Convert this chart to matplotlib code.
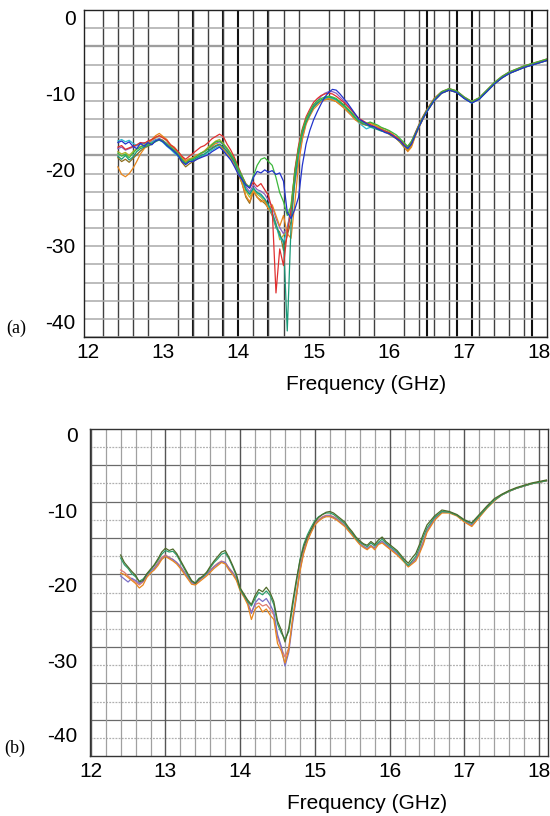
import numpy as np
import matplotlib.pyplot as plt
from matplotlib.ticker import MultipleLocator, FixedLocator

plt.rcParams['font.family'] = ['Liberation Sans', 'DejaVu Sans']
plt.rcParams['axes.unicode_minus'] = False

# frequency grid (GHz): 0.05 steps up to 16.5, then 0.1 steps
freq = np.round(np.concatenate([np.arange(12.40, 16.501, 0.05),
                                np.arange(16.60, 18.101, 0.10)]), 2)

# ---- (a) measured S11 traces (dB) ----
a_blue = [-16.4,-16.2,-16.6,-16.3,-16.9,-17.2,-16.5,-16.9,-16.4,-16.7,
          -16.2,-16.0,-16.3,-16.8,-17.2,-17.6,-18.1,-18.9,-19.3,-18.9,
          -18.9,-18.6,-18.4,-18.2,-18.0,-17.6,-17.3,-17.0,-17.5,-18.1,
          -18.7,-19.6,-20.6,-21.3,-22.0,-22.4,-21.0,-20.2,-20.4,-20.0,
          -20.3,-20.1,-20.6,-20.4,-21.5,-25.6,-26.4,-25.2,-23.6,-19.4,
          -16.6,-14.8,-13.4,-12.3,-11.3,-10.4,-9.8,-9.4,-9.5,-10.0,
          -10.6,-11.2,-11.9,-12.6,-13.3,-13.6,-13.9,-14.2,-14.3,-14.6,
          -14.8,-15.1,-15.2,-15.5,-15.9,-16.2,-16.8,-17.2,-16.6,-15.4,
          -14.3,-13.3,-12.4,-10.9,-9.9,-9.5,-9.8,-10.6,-11.2,-10.7,
          -9.7,-8.7,-7.9,-7.3,-6.9,-6.5,-6.2,-5.9,-5.6]
a_orange = [-19.6,-20.6,-20.9,-20.5,-19.8,-18.9,-17.9,-17.2,-16.6,-16.0,
            -15.5,-15.2,-15.6,-16.0,-16.7,-17.0,-17.6,-18.2,-18.9,-18.6,
            -18.4,-18.0,-17.9,-17.5,-17.1,-16.9,-16.5,-16.7,-17.3,-17.8,
            -18.5,-19.4,-20.4,-21.8,-23.4,-24.2,-22.8,-23.6,-24.2,-24.0,
            -25.2,-24.6,-26.0,-27.4,-26.0,-28.4,-29.0,-24.4,-19.2,-16.0,
            -14.0,-12.9,-12.0,-11.5,-11.0,-10.8,-10.6,-10.8,-11.0,-11.4,
            -11.8,-12.3,-12.8,-13.4,-13.7,-14.0,-14.1,-13.8,-14.0,-14.3,
            -14.5,-14.6,-14.9,-15.3,-15.7,-16.2,-16.8,-17.6,-17.0,-15.6,
            -14.4,-13.4,-12.4,-10.9,-9.9,-9.5,-9.8,-10.5,-11.1,-10.6,
            -9.7,-8.7,-7.9,-7.2,-6.8,-6.4,-6.1,-5.8,-5.5]
a_green = [-17.8,-18.2,-17.9,-18.4,-17.8,-17.3,-17.0,-16.8,-16.6,-16.5,
           -16.3,-16.0,-16.2,-16.6,-17.0,-17.4,-17.9,-18.6,-19.1,-18.7,
           -18.5,-18.2,-17.8,-17.6,-17.2,-16.7,-16.3,-16.2,-16.6,-17.2,
           -17.9,-18.7,-19.8,-20.8,-21.9,-22.2,-20.8,-19.4,-18.6,-18.4,
           -18.9,-19.4,-21.0,-23.0,-24.2,-26.0,-24.8,-20.4,-17.2,-14.8,
           -13.3,-12.3,-11.4,-10.9,-10.6,-10.4,-10.3,-10.4,-10.6,-11.0,
           -11.4,-11.9,-12.4,-13.0,-13.5,-13.7,-13.9,-13.7,-13.9,-14.1,
           -14.4,-14.6,-14.8,-15.1,-15.4,-15.9,-16.4,-16.9,-16.2,-15.2,
           -14.1,-13.1,-12.2,-10.7,-9.7,-9.3,-9.6,-10.4,-11.0,-10.5,
           -9.5,-8.5,-7.7,-7.1,-6.7,-6.3,-6.0,-5.7,-5.4]
a_red = [-17.0,-16.8,-17.3,-17.1,-16.9,-16.7,-16.4,-16.5,-16.2,-16.0,
         -15.7,-15.5,-15.8,-16.1,-16.7,-17.1,-17.6,-18.2,-18.6,-18.2,
         -17.8,-17.4,-17.0,-16.8,-16.4,-15.9,-15.6,-15.3,-15.6,-16.6,
         -17.4,-18.4,-19.6,-20.8,-21.8,-22.4,-21.6,-22.2,-21.8,-22.6,
         -23.4,-25.2,-36.2,-30.4,-32.6,-28.2,-25.4,-20.0,-16.8,-14.6,
         -13.0,-12.0,-11.1,-10.6,-10.2,-10.0,-9.9,-10.0,-10.3,-10.7,
         -11.1,-11.6,-12.1,-12.7,-13.2,-13.5,-13.8,-14.0,-14.3,-14.5,
         -14.7,-14.9,-15.1,-15.4,-15.7,-16.1,-16.6,-16.9,-16.3,-15.1,
         -14.0,-13.0,-12.1,-10.6,-9.7,-9.3,-9.6,-10.4,-11.0,-10.5,
         -9.5,-8.5,-7.7,-7.1,-6.7,-6.3,-6.0,-5.7,-5.4]
a_teal = [-18.2,-18.6,-18.1,-18.7,-18.3,-17.6,-17.2,-17.0,-16.8,-16.6,
          -16.2,-16.1,-16.3,-16.7,-17.1,-17.5,-18.0,-18.7,-19.2,-18.9,
          -18.7,-18.4,-18.1,-17.9,-17.5,-17.1,-16.8,-16.6,-17.0,-17.6,
          -18.2,-19.0,-20.2,-21.2,-22.6,-23.2,-22.4,-23.0,-23.2,-23.8,
          -24.6,-25.6,-27.2,-28.6,-29.4,-41.2,-27.4,-21.4,-17.6,-15.2,
          -13.7,-12.7,-11.7,-11.2,-10.8,-10.5,-10.4,-10.5,-10.7,-11.1,
          -11.5,-12.0,-12.5,-13.1,-13.6,-13.9,-14.1,-14.3,-14.5,-14.7,
          -14.9,-15.0,-15.2,-15.5,-15.8,-16.2,-16.7,-17.1,-16.5,-15.4,
          -14.3,-13.3,-12.4,-10.9,-9.9,-9.5,-9.8,-10.6,-11.2,-10.7,
          -9.7,-8.7,-7.9,-7.3,-6.9,-6.5,-6.2,-5.9,-5.6]
a_cyan = [-16.2,-16.0,-16.3,-16.1,-16.5,-16.8,-16.4,-16.6,-16.3,-16.4,
          -16.1,-16.0,-16.4,-16.9,-17.3,-17.8,-18.2,-18.8,-19.1,-18.7,
          -18.5,-18.4,-18.2,-18.0,-17.7,-17.4,-17.1,-16.9,-17.3,-17.9,
          -18.6,-19.4,-20.4,-21.4,-22.5,-23.2,-22.4,-23.0,-23.4,-23.9,
          -24.8,-25.8,-27.4,-28.8,-29.6,-27.8,-25.6,-21.2,-17.8,-15.3,
          -13.8,-12.8,-11.8,-11.3,-10.9,-10.6,-10.5,-10.6,-10.8,-11.2,
          -11.6,-12.1,-12.6,-13.2,-13.8,-14.2,-14.6,-14.4,-14.5,-14.6,
          -14.7,-14.9,-15.1,-15.4,-15.7,-16.1,-16.6,-17.0,-16.4,-15.3,
          -14.2,-13.2,-12.3,-10.8,-9.8,-9.4,-9.7,-10.5,-11.1,-10.6,
          -9.6,-8.6,-7.8,-7.2,-6.8,-6.4,-6.1,-5.8,-5.5]
a_brown = [-18.4,-18.9,-18.6,-19.0,-18.5,-18.0,-17.5,-17.1,-16.9,-16.6,
           -16.2,-15.9,-16.1,-16.6,-17.1,-17.6,-18.2,-19.0,-19.6,-19.2,
           -18.9,-18.6,-18.3,-18.0,-17.6,-17.2,-16.9,-16.7,-17.0,-17.5,
           -18.3,-19.2,-20.6,-21.8,-23.6,-24.4,-22.8,-23.6,-24.0,-24.4,
           -25.0,-26.0,-27.6,-28.2,-30.6,-28.6,-26.8,-20.6,-17.2,-14.9,
           -13.4,-12.5,-11.6,-11.2,-10.9,-10.7,-10.7,-10.8,-11.0,-11.4,
           -11.8,-12.3,-12.8,-13.3,-13.7,-13.9,-14.1,-14.2,-14.4,-14.6,
           -14.8,-15.0,-15.3,-15.6,-15.9,-16.4,-17.0,-17.5,-16.8,-15.5,
           -14.3,-13.3,-12.4,-10.9,-9.9,-9.5,-9.8,-10.5,-11.1,-10.6,
           -9.7,-8.7,-7.9,-7.3,-6.9,-6.5,-6.2,-5.9,-5.6]
a_olive = [-17.6,-17.9,-17.7,-18.1,-17.6,-17.2,-16.9,-16.7,-16.3,-16.1,
           -15.8,-15.5,-15.7,-16.2,-16.8,-17.2,-17.7,-18.4,-18.8,-18.5,
           -18.4,-18.1,-17.8,-17.5,-17.0,-16.6,-16.2,-16.0,-16.5,-17.1,
           -17.8,-18.6,-19.9,-21.2,-22.8,-23.6,-22.6,-23.2,-23.6,-24.2,
           -25.0,-25.8,-27.0,-29.2,-28.6,-28.0,-24.6,-20.2,-17.0,-14.8,
           -13.3,-12.4,-11.6,-11.1,-10.8,-10.6,-10.6,-10.7,-10.9,-11.3,
           -11.7,-12.2,-12.7,-13.2,-13.6,-13.8,-13.9,-13.8,-14.1,-14.3,
           -14.6,-14.8,-15.1,-15.4,-15.8,-16.3,-16.9,-17.3,-16.6,-15.4,
           -14.2,-13.2,-12.3,-10.8,-9.8,-9.4,-9.7,-10.5,-11.1,-10.6,
           -9.6,-8.6,-7.8,-7.2,-6.8,-6.4,-6.1,-5.8,-5.5]
a_purple = [-17.2,-17.0,-17.4,-17.2,-17.0,-16.8,-16.6,-16.4,-16.6,-16.3,
            -16.0,-15.9,-16.2,-16.5,-17.0,-17.4,-17.9,-18.6,-19.0,-18.7,
            -18.5,-18.2,-17.9,-17.6,-17.2,-16.9,-16.5,-16.3,-16.7,-17.3,
            -18.0,-18.9,-20.1,-21.1,-22.2,-22.9,-22.0,-22.6,-22.8,-23.2,
            -24.0,-24.8,-26.4,-27.6,-28.4,-27.6,-25.2,-21.8,-18.6,-15.8,
            -13.8,-12.6,-11.5,-10.9,-10.3,-9.9,-9.7,-9.7,-9.9,-10.4,
            -10.9,-11.5,-12.1,-12.7,-13.3,-13.6,-13.9,-14.1,-14.3,-14.5,
            -14.7,-14.9,-15.1,-15.4,-15.7,-16.1,-16.6,-17.0,-16.4,-15.3,
            -14.2,-13.2,-12.3,-10.8,-9.8,-9.4,-9.7,-10.5,-11.1,-10.6,
            -9.6,-8.6,-7.8,-7.2,-6.8,-6.4,-6.1,-5.8,-5.5]

# ---- (b) measured S11 traces (dB) ----
b_green = [-16.0,-17.0,-17.6,-18.2,-18.7,-19.6,-19.4,-18.5,-17.9,-17.3,
           -16.5,-15.6,-15.1,-15.4,-15.2,-15.8,-16.7,-17.6,-18.5,-19.4,
           -19.8,-19.2,-18.8,-18.3,-17.5,-16.8,-16.2,-15.6,-15.4,-16.3,
           -17.4,-18.6,-20.4,-21.2,-22.0,-22.6,-21.4,-20.6,-20.9,-20.3,
           -21.0,-22.2,-24.8,-26.0,-27.6,-25.8,-22.4,-19.4,-16.8,-14.9,
           -13.6,-12.6,-11.6,-11.0,-10.6,-10.3,-10.2,-10.4,-10.8,-11.2,
           -11.6,-12.3,-12.9,-13.6,-14.1,-14.5,-14.7,-14.2,-14.6,-14.0,
           -13.6,-14.2,-14.6,-15.0,-15.4,-16.0,-16.6,-17.1,-16.4,-15.8,
           -14.6,-13.2,-12.0,-10.8,-10.0,-10.2,-10.6,-11.3,-11.7,-10.6,
           -9.5,-8.5,-7.9,-7.4,-7.0,-6.7,-6.4,-6.2,-6.0]
b_teal = [-16.4,-17.3,-17.8,-18.5,-18.9,-19.5,-19.2,-18.6,-18.0,-17.4,
          -16.7,-15.9,-15.4,-15.6,-15.5,-16.0,-16.9,-17.8,-18.7,-19.5,
          -19.7,-19.1,-18.9,-18.4,-17.7,-17.0,-16.5,-15.9,-15.7,-16.5,
          -17.6,-18.8,-20.6,-21.4,-22.2,-22.8,-21.8,-21.0,-21.3,-20.8,
          -21.4,-22.6,-25.2,-26.4,-27.2,-26.2,-23.0,-19.8,-16.6,-14.6,
          -13.3,-12.3,-11.4,-10.9,-10.6,-10.4,-10.4,-10.6,-11.0,-11.4,
          -11.8,-12.5,-13.1,-13.8,-14.3,-14.6,-14.9,-14.4,-14.8,-14.3,
          -13.9,-14.4,-14.8,-15.2,-15.6,-16.2,-16.9,-17.4,-16.8,-16.2,
          -15.0,-13.6,-12.4,-11.0,-10.2,-10.3,-10.7,-11.4,-11.8,-10.8,
          -9.7,-8.7,-8.0,-7.5,-7.1,-6.8,-6.5,-6.3,-6.1]
b_orange = [-18.4,-18.6,-19.0,-19.4,-19.8,-20.4,-20.0,-19.0,-18.4,-18.0,
            -17.4,-16.6,-16.2,-16.5,-16.8,-17.2,-17.8,-18.5,-19.2,-19.9,
            -20.0,-19.6,-19.2,-18.8,-18.3,-17.8,-17.4,-17.0,-17.2,-18.0,
            -18.6,-19.4,-20.8,-21.6,-22.6,-24.6,-23.2,-22.8,-23.6,-23.2,
            -24.0,-24.6,-27.8,-28.8,-30.4,-28.6,-24.6,-21.6,-18.2,-15.8,
            -14.2,-13.0,-12.0,-11.5,-11.1,-10.9,-10.9,-11.1,-11.4,-11.8,
            -12.2,-12.8,-13.4,-14.0,-14.6,-15.0,-15.3,-14.8,-15.3,-14.6,
            -14.4,-14.8,-15.2,-15.6,-16.0,-16.5,-17.0,-17.6,-17.2,-16.8,
            -15.8,-14.6,-13.0,-11.4,-10.4,-10.4,-10.8,-11.6,-12.2,-11.0,
            -9.8,-8.8,-8.0,-7.5,-7.1,-6.8,-6.5,-6.3,-6.1]
b_purple = [-18.8,-19.2,-19.6,-19.1,-19.4,-19.8,-19.5,-18.8,-18.2,-17.8,
            -17.2,-16.5,-16.1,-16.4,-16.6,-17.0,-17.6,-18.3,-19.0,-19.7,
            -19.9,-19.4,-19.0,-18.6,-18.1,-17.6,-17.2,-16.9,-17.0,-17.8,
            -18.4,-19.2,-20.6,-21.4,-22.4,-23.8,-22.4,-21.8,-22.2,-21.8,
            -22.6,-23.6,-26.6,-28.2,-30.8,-29.0,-25.2,-21.8,-18.0,-15.6,
            -14.0,-12.9,-11.9,-11.4,-11.0,-10.8,-10.8,-11.0,-11.3,-11.7,
            -12.1,-12.7,-13.3,-13.9,-14.5,-14.9,-15.1,-14.7,-15.1,-14.5,
            -14.2,-14.6,-15.0,-15.4,-15.8,-16.3,-16.9,-17.5,-17.1,-16.6,
            -15.6,-14.4,-12.8,-11.2,-10.3,-10.3,-10.7,-11.5,-12.0,-10.9,
            -9.7,-8.7,-8.0,-7.5,-7.1,-6.8,-6.5,-6.3,-6.1]
b_pink = [-18.0,-18.3,-18.8,-19.2,-19.6,-20.0,-19.6,-18.8,-18.1,-17.7,
          -17.0,-16.3,-16.0,-16.3,-16.6,-17.0,-17.5,-18.2,-18.9,-19.6,
          -19.8,-19.3,-18.9,-18.5,-18.0,-17.5,-17.1,-16.8,-17.0,-17.7,
          -18.3,-19.1,-20.5,-21.4,-22.3,-23.6,-22.6,-22.4,-22.8,-22.6,
          -23.2,-24.0,-27.0,-28.4,-29.6,-28.4,-24.8,-21.2,-17.8,-15.4,
          -13.9,-12.8,-11.8,-11.3,-10.9,-10.7,-10.7,-10.9,-11.2,-11.6,
          -12.0,-12.6,-13.2,-13.8,-14.4,-14.8,-15.2,-14.9,-15.0,-14.4,
          -14.2,-14.7,-15.1,-15.5,-15.9,-16.4,-16.9,-17.4,-17.0,-16.5,
          -15.4,-14.2,-12.7,-11.2,-10.3,-10.3,-10.7,-11.5,-12.1,-10.9,
          -9.7,-8.7,-8.0,-7.5,-7.1,-6.8,-6.5,-6.3,-6.1]

traces_a = [(a_brown, '#8c6d1f'), (a_olive, '#b5b42a'), (a_purple, '#8a5fc0'),
            (a_cyan, '#2bbad0'), (a_orange, '#e8871e'), (a_teal, '#1a9a78'),
            (a_red, '#e03030'), (a_green, '#3cb83c'), (a_blue, '#2233cc')]
traces_b = [(b_pink, '#e07a70'), (b_purple, '#7a6fc8'), (b_orange, '#e8871e'),
            (b_teal, '#2e9e6e'), (b_green, '#4f6b2a')]

yticks = [0, -10, -20, -30, -40]
xticks = [12, 13, 14, 15, 16, 17, 18]
fs = 15

fig = plt.figure(figsize=(5.5, 8.16), dpi=100)

# ---------- panel (a) ----------
ax1 = fig.add_axes([84/550, 479/816, 463/550, 327/816])
y1lim = (-42.0, 1.05)
ax1.set_xlim(11.95, 18.1)
ax1.set_ylim(*y1lim)
for vals, c in traces_a:
    ax1.plot(freq, vals, color=c, lw=0.9)
ax1.xaxis.set_minor_locator(MultipleLocator(0.2))
ax1.yaxis.set_minor_locator(FixedLocator(np.linspace(y1lim[0], y1lim[1], 19)))
ax1.grid(which='minor', axis='x', color='#404040', lw=1.0)
ax1.grid(which='minor', axis='y', color='#aaaaaa', lw=1.1)
for i in [2, 8]:
    ax1.axhline(np.linspace(y1lim[1], y1lim[0], 19)[i], color='#777777', lw=1.6, zorder=0.5)
for xv in [13.4, 13.8, 14.0, 14.4, 16.5, 16.9, 17.1, 17.9]:
    ax1.axvline(xv, color='#111111', lw=1.5, zorder=0.5)
ax1.set_axisbelow(True)
ax1.set_xticks(xticks)
ax1.set_yticks(yticks)
ax1.tick_params(which='both', length=0, labelsize=fs)
ax1.tick_params(axis='y', pad=6)
ax1.tick_params(axis='x', pad=4)
for s in ax1.spines.values():
    s.set_color('#222222')
    s.set_linewidth(1.0)
ax1.set_xlabel('Frequency (GHz)', fontsize=fs)
ax1.xaxis.set_label_coords(0.61, -0.115)
fig.text(6/550, 1 - 328/816, '(a)', fontsize=13, family='Liberation Serif', va='center')

# ---------- panel (b) ----------
ax2 = fig.add_axes([90/550, 60/816, 458/550, 327/816])
y2lim = (-42.8, 0.8)
ax2.set_xlim(11.99, 18.12)
ax2.set_ylim(*y2lim)
for vals, c in traces_b:
    ax2.plot(freq, vals, color=c, lw=0.9)
ax2.xaxis.set_minor_locator(MultipleLocator(0.2))
hlines_b = np.linspace(y2lim[1], y2lim[0], 19)
ax2.grid(which='minor', axis='x', color='#a0a0a0', lw=0.9)
ax2.grid(which='major', axis='x', color='#555555', lw=1.0)
for i, yv in enumerate(hlines_b[1:-1], start=1):
    if i % 2 == 0:
        ax2.axhline(yv, color='#6a6a6a', lw=0.9, zorder=0.5)
    else:
        ax2.axhline(yv, color='#b0b0b0', lw=0.9, ls=(0, (1.5, 1)), zorder=0.5)
ax2.set_axisbelow(True)
ax2.set_xticks(xticks)
ax2.set_yticks(yticks)
ax2.tick_params(which='both', length=0, labelsize=fs)
ax2.tick_params(axis='y', pad=9)
ax2.tick_params(axis='x', pad=4)
for s in ax2.spines.values():
    s.set_color('#333333')
    s.set_linewidth(1.0)
ax2.set_xlabel('Frequency (GHz)', fontsize=fs)
ax2.xaxis.set_label_coords(0.605, -0.115)
fig.text(4/550, 1 - 748/816, '(b)', fontsize=13, family='Liberation Serif', va='center')

fig.savefig('out.png', dpi=100)
